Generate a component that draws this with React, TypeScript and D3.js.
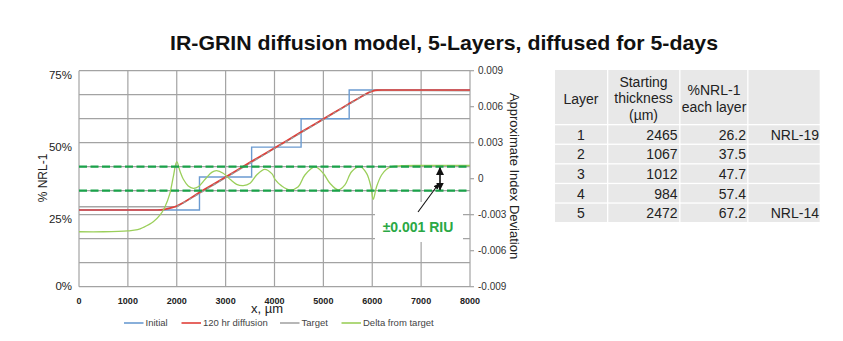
import { useEffect, useRef } from "react";
import * as d3 from "d3";

// table / layer data
const layers = ["1", "2", "3", "4", "5"];
const thickness = [2465, 1067, 1012, 984, 2472];
const nrlPct = [26.2, 37.5, 47.7, 57.4, 67.2];
const source = ["NRL-19", "", "", "", "NRL-14"];

// 120 hr diffusion profile (% NRL-1)
const diffX = [0, 1600, 1750, 1900, 2000, 2500, 3000, 3500, 4000, 4500, 5000, 5500, 5800, 5900, 6000, 6100, 6200, 8000];
const diffY = [26.2, 26.2, 26.4, 27.0, 27.6, 32.6, 37.5, 42.5, 47.4, 52.4, 57.3, 62.3, 65.2, 66.1, 66.8, 67.15, 67.2, 67.2];

// target profile (% NRL-1)
const targetX = [0, 2000, 6000, 8000];
const targetY = [27.3, 27.3, 67.1, 66.95];

// delta from target (RIU)
const deltaX = [0, 500, 1000, 1200, 1320, 1520, 1660, 1760, 1860, 1930, 2000, 2070, 2135, 2235, 2340, 2440, 2580, 2715, 2815, 2950, 3090, 3225, 3360, 3500, 3635, 3800, 3950, 4010, 4146, 4316, 4486, 4622, 4827, 4997, 5134, 5304, 5441, 5577, 5748, 5884, 5973, 6020, 6088, 6191, 6293, 6395, 6600, 7000, 8000];
const deltaY = [-0.00442, -0.00442, -0.00435, -0.00425, -0.00405, -0.00358, -0.00302, -0.00233, -0.00122, 0.00017, 0.00142, 0.00058, -0.00005, -0.0006, -0.0008, -0.00067, -0.00005, 0.00053, 0.00067, 0.00045, -0.00005, -0.00047, -0.00058, -0.00038, 0.00031, 0.00078, 0.0004, -0.00005, -0.0006, -0.00094, -0.00067, 0.00031, 0.00098, 0.00045, -0.00038, -0.00094, -0.00052, 0.00058, 0.001, 0.00045, -0.00067, -0.00172, -0.00067, 0.00031, 0.00078, 0.001, 0.00108, 0.0011, 0.0011];

const xTicks = d3.range(0, 8001, 1000);
const leftTicks = [0, 25, 50, 75];
const rightTicks = [-0.009, -0.006, -0.003, 0, 0.003, 0.006, 0.009];
const gridTicks = d3.range(-0.009, 0.0091, 0.002);
const band = 0.001;

const legendItems = [
  { label: "Initial", color: "#6b9bd1" },
  { label: "120 hr diffusion", color: "#e0403a" },
  { label: "Target", color: "#a6a6a6" },
  { label: "Delta from target", color: "#9bcf5b" },
];

const FONT = "'Liberation Sans', Arial, sans-serif";

export default function App() {
  const svgRef = useRef<SVGSVGElement>(null);

  useEffect(() => {
    const svg = d3.select(svgRef.current);
    svg.selectAll("*").remove();
    svg.style("font-family", FONT);

    const left = 79, right = 470, top = 70.7, bottom = 286.7;

    const x = d3.scaleLinear().domain([0, 8000]).range([left, right]);
    const yL = d3.scaleLinear().domain([0, 73.8]).range([bottom, top]);
    const yLab = d3.scaleLinear().domain([0, 75]).range([bottom, top]);
    const yR = d3.scaleLinear().domain([-0.009, 0.009]).range([bottom, top]);

    const defs = svg.append("defs");
    defs.append("clipPath").attr("id", "slope")
      .append("rect")
      .attr("x", x(2000)).attr("y", top)
      .attr("width", x(6000) - x(2000)).attr("height", bottom - top);
    defs.append("marker").attr("id", "head")
      .attr("viewBox", "0 0 10 10").attr("refX", 9).attr("refY", 5)
      .attr("markerWidth", 5).attr("markerHeight", 5).attr("orient", "auto-start-reverse")
      .append("path").attr("d", "M0,0L10,5L0,10z").attr("fill", "#111");

    // title
    svg.append("text")
      .attr("x", 444).attr("y", 50)
      .attr("text-anchor", "middle")
      .attr("font-size", 21).attr("font-weight", "bold")
      .attr("textLength", 548).attr("lengthAdjust", "spacingAndGlyphs")
      .attr("fill", "#111")
      .text("IR-GRIN diffusion model, 5-Layers, diffused for 5-days");

    // grid
    const grid = svg.append("g").attr("stroke", "#a3a3a3").attr("stroke-width", 1.2);
    grid.selectAll("line.h").data(gridTicks).join("line")
      .attr("x1", left).attr("x2", right)
      .attr("y1", d => yR(d)).attr("y2", d => yR(d));
    grid.selectAll("line.v").data(xTicks).join("line")
      .attr("class", "v")
      .attr("x1", d => x(d)).attr("x2", d => x(d))
      .attr("y1", top).attr("y2", bottom);

    // right axis ticks
    svg.append("g").attr("stroke", "#a3a3a3").attr("stroke-width", 1.2)
      .selectAll("line").data(rightTicks).join("line")
      .attr("x1", right).attr("x2", right + 4)
      .attr("y1", d => yR(d)).attr("y2", d => yR(d));

    // annotation box (covers grid)
    svg.append("rect").attr("x", 375).attr("y", 202).attr("width", 88).attr("height", 40).attr("fill", "#fff");

    // axis labels
    svg.append("g").selectAll("text").data(leftTicks).join("text")
      .attr("x", 72).attr("y", d => Math.min(yLab(d) + 4, 286))
      .attr("dy", "0.35em").attr("text-anchor", "end")
      .attr("font-size", 11.5).attr("fill", "#222")
      .text(d => `${d}%`);

    svg.append("g").selectAll("text").data(rightTicks).join("text")
      .attr("x", 478).attr("y", d => yR(d)).attr("dy", "0.35em")
      .attr("font-size", 10).attr("fill", "#333")
      .text(d => (d === 0 ? "0" : d3.format(".3f")(d).replace("−", "-")));

    svg.append("g").selectAll("text").data(xTicks).join("text")
      .attr("x", d => x(d)).attr("y", 304)
      .attr("text-anchor", "middle")
      .attr("font-size", 9).attr("font-weight", "bold").attr("fill", "#222")
      .text(d => d);

    svg.append("text").attr("x", 267).attr("y", 313).attr("text-anchor", "middle")
      .attr("font-size", 13).attr("fill", "#222").text("x, µm");

    svg.append("text").attr("transform", "translate(47,178) rotate(-90)")
      .attr("text-anchor", "middle").attr("font-size", 12).attr("fill", "#222")
      .text("% NRL-1");

    svg.append("text").attr("transform", "translate(510,176) rotate(90)")
      .attr("text-anchor", "middle").attr("font-size", 13).attr("fill", "#222")
      .text("Approximate Index Deviation");

    // series
    const starts = d3.cumsum([0, ...thickness.slice(0, -1)]);
    const initial: [number, number][] = Array.from(starts, (s, i) => [s, nrlPct[i]]);
    initial.push([d3.sum(thickness), nrlPct[nrlPct.length - 1]]);

    const lineL = d3.line<[number, number]>().x(d => x(d[0])).y(d => yL(d[1]));
    const target = targetX.map((v, i) => [v, targetY[i]] as [number, number]);
    const diff = diffX.map((v, i) => [v, diffY[i]] as [number, number]);
    const delta = deltaX.map((v, i) => [v, deltaY[i]] as [number, number]);

    svg.append("path").datum(initial)
      .attr("d", lineL.curve(d3.curveStepAfter))
      .attr("fill", "none").attr("stroke", "#6b9bd1").attr("stroke-width", 1.4);

    svg.append("path").datum(target)
      .attr("d", d3.line<[number, number]>().x(d => x(d[0])).y(d => yL(d[1]))(target))
      .attr("fill", "none").attr("stroke", "#a6a6a6").attr("stroke-width", 1.4);

    svg.append("path").datum(diff)
      .attr("d", d3.line<[number, number]>().x(d => x(d[0])).y(d => yL(d[1])).curve(d3.curveMonotoneX)(diff))
      .attr("fill", "none").attr("stroke", "#e0403a").attr("stroke-width", 1.7);

    svg.append("path")
      .attr("clip-path", "url(#slope)")
      .attr("d", d3.line<[number, number]>().x(d => x(d[0])).y(d => yL(d[1]))(target))
      .attr("fill", "none").attr("stroke", "#9a9a9a").attr("stroke-width", 1.3)
      .attr("stroke-dasharray", "3 4");

    svg.append("path")
      .attr("d", d3.line<[number, number]>().x(d => x(d[0])).y(d => yR(d[1])).curve(d3.curveCatmullRom.alpha(0.5))(delta))
      .attr("fill", "none").attr("stroke", "#9bcf5b").attr("stroke-width", 1.3);

    // tolerance band
    svg.append("g").selectAll("line").data([band, -band]).join("line")
      .attr("x1", left).attr("x2", right)
      .attr("y1", d => yR(d)).attr("y2", d => yR(d))
      .attr("stroke", "#1aa24a").attr("stroke-width", 2.2).attr("stroke-dasharray", "8 3.5");

    // annotation
    svg.append("line")
      .attr("x1", 440).attr("x2", 440).attr("y1", yR(band) + 1).attr("y2", yR(-band) - 1)
      .attr("stroke", "#111").attr("stroke-width", 1.6)
      .attr("marker-start", "url(#head)").attr("marker-end", "url(#head)");
    svg.append("line")
      .attr("x1", 418).attr("y1", 212).attr("x2", 438.5).attr("y2", 184)
      .attr("stroke", "#111").attr("stroke-width", 1.1)
      .attr("marker-end", "url(#head)");
    svg.append("text").attr("x", 418).attr("y", 231.5).attr("text-anchor", "middle")
      .attr("font-size", 14).attr("font-weight", "bold").attr("fill", "#2aa845")
      .text("±0.001 RIU");

    // legend
    const legX = [124, 181.5, 280, 341.5];
    const leg = svg.append("g").selectAll("g").data(legendItems).join("g")
      .attr("transform", (_, i) => `translate(${legX[i]},323)`);
    leg.append("line").attr("x1", 0).attr("x2", 19.5)
      .attr("stroke", d => d.color).attr("stroke-width", 1.6);
    leg.append("text").attr("x", 21.5).attr("dy", "0.35em")
      .attr("font-size", 9.5).attr("fill", "#444").text(d => d.label);

    // table
    const colX = [555, 608.3, 680.5, 748.5, 821];
    const headTop = 70, headBottom = 124, rowH = 19.6, gap = 1.3;
    const tbl = svg.append("g").attr("font-size", 14).attr("fill", "#222");
    for (let c = 0; c < 4; c++) {
      tbl.append("rect").attr("x", colX[c]).attr("y", headTop)
        .attr("width", colX[c + 1] - colX[c] - gap).attr("height", headBottom - headTop)
        .attr("fill", "#e8e8e8");
      layers.forEach((_, r) => {
        tbl.append("rect").attr("x", colX[c]).attr("y", headBottom + gap + r * rowH)
          .attr("width", colX[c + 1] - colX[c] - gap).attr("height", rowH - gap)
          .attr("fill", "#e8e8e8");
      });
    }
    const head = [
      { cx: 581, lines: ["Layer"], y0: 104 },
      { cx: 643.5, lines: ["Starting", "thickness", "(µm)"], y0: 86.5 },
      { cx: 714, lines: ["%NRL-1", "each layer"], y0: 95 },
    ];
    head.forEach(h => {
      h.lines.forEach((t, i) => {
        tbl.append("text").attr("x", h.cx).attr("y", h.y0 + i * 16.5)
          .attr("text-anchor", "middle").attr("fill", "#222").text(t);
      });
    });
    layers.forEach((l, r) => {
      const yb = headBottom + gap + r * rowH + 14.5;
      tbl.append("text").attr("x", 581).attr("y", yb).attr("text-anchor", "middle").text(l);
      tbl.append("text").attr("x", 677.5).attr("y", yb).attr("text-anchor", "end").text(thickness[r]);
      tbl.append("text").attr("x", 746).attr("y", yb).attr("text-anchor", "end").text(nrlPct[r].toFixed(1));
      tbl.append("text").attr("x", 819).attr("y", yb).attr("text-anchor", "end").text(source[r]);
    });
  }, []);

  return (
    <div style={{ position: "fixed", left: 0, top: 0, background: "#fff" }}>
      <svg ref={svgRef} width={843} height={341} style={{ display: "block", background: "#fff" }} />
    </div>
  );
}
